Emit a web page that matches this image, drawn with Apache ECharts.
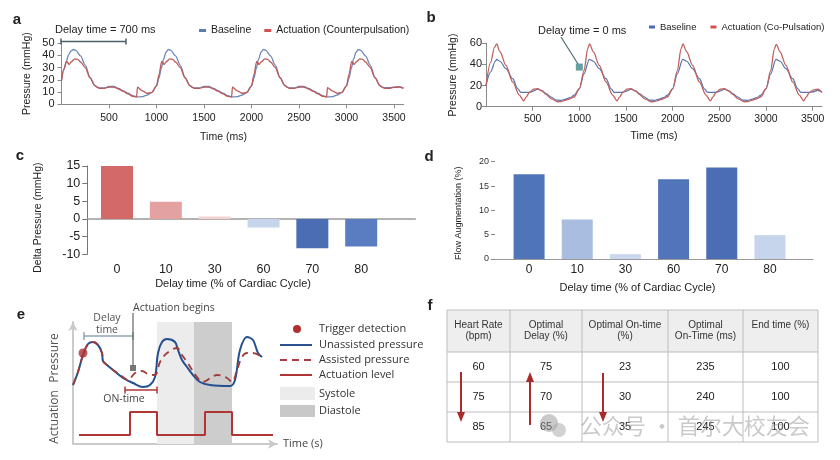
<!DOCTYPE html>
<html>
<head>
<meta charset="utf-8">
<script src="https://cdn.jsdelivr.net/npm/echarts@6.0.0/dist/echarts.min.js"></script>
<style>
  html, body { margin: 0; background: #fff; }
  #main { width: 840px; height: 460px; }
</style>
</head>
<body>
<div id="main"></div>
<script>
// ---- panel a: pressure traces, counterpulsation (time ms, mmHg)
var baseA = [
  [0,20],[25,28],[50,35],[75,40.5],[100,43.5],[125,44.7],[150,44],[200,39.5],[250,32],[300,22],[350,15.5],[375,14],[400,13.3],[450,13.3],[500,14.5],[550,14.5],[600,13],[650,11],[700,9],[750,7],[800,6],[850,6.2],[900,7.5],[950,9.5],
  [1000,15],[1025,21],[1050,29],[1075,37],[1100,42.5],[1125,44.7],[1150,44],[1200,39.5],[1250,32],[1300,22],[1350,15.5],[1375,14],[1400,13.3],[1450,13.3],[1500,14.5],[1550,14.5],[1600,13],[1650,11],[1700,9],[1750,7],[1800,6],[1850,6.2],[1900,7.5],[1950,9.5],
  [2000,15],[2025,21],[2050,29],[2075,37],[2100,42.5],[2125,44.7],[2150,44],[2200,39.5],[2250,32],[2300,22],[2350,15.5],[2375,14],[2400,13.3],[2450,13.3],[2500,14.5],[2550,14.5],[2600,13],[2650,11],[2700,9],[2750,7],[2800,6],[2850,6.2],[2900,7.5],[2950,9.5],
  [3000,15],[3025,21],[3050,29],[3075,37],[3100,42.5],[3125,44.7],[3150,44],[3200,39.5],[3250,32],[3300,22],[3350,15.5],[3375,14],[3400,13.5],[3450,13.5],[3500,14],[3550,14.3],[3600,13.3]
]
var actA = [
  [0,19],[25,29],[55,35],[80,32.5],[100,34.5],[140,37],[175,36.5],[200,34.5],[250,30],[300,21.5],[350,15.3],[375,14],[400,13],[450,13],[500,14],[550,14],[600,12.5],[650,10.5],[700,8.5],[750,6.5],[790,6],[800,14],[850,11],[900,9],[950,9.8],
  [1000,15],[1025,24],[1055,35],[1080,32.5],[1100,34.5],[1140,37],[1175,36.5],[1200,34.5],[1250,30],[1300,21.5],[1350,15.3],[1375,14],[1400,13],[1450,13],[1500,14],[1550,14],[1600,12.5],[1650,10.5],[1700,8.5],[1750,6.5],[1790,6],[1800,14],[1850,11],[1900,9],[1950,9.8],
  [2000,15],[2025,24],[2055,35],[2080,32.5],[2100,34.5],[2140,37],[2175,36.5],[2200,34.5],[2250,30],[2300,21.5],[2350,15.3],[2375,14],[2400,13],[2450,13],[2500,14],[2550,14],[2600,12.5],[2650,10.5],[2700,8.5],[2750,6.5],[2790,6],[2800,13.5],[2850,11],[2900,9],[2950,9.8],
  [3000,15],[3025,24],[3055,35],[3080,32.5],[3100,34.5],[3140,37],[3175,36.5],[3200,34.5],[3250,30],[3300,21.5],[3350,15.3],[3375,14],[3400,13],[3450,13],[3500,13.8],[3550,14],[3600,13]
]

// ---- panel b: pressure traces, co-pulsation
var baseB = [
  [0,20],[50,33],[100,43],[115,44.7],[150,43],[214,36],[286,26.5],[340,17],[375,13.5],[450,13.5],[500,14.5],[554,16.5],[600,15],[643,12.5],[700,9],[750,6.3],[800,6],[857,7.2],[900,8.5],[946,11],
  [1000,17],[1050,31],[1107,44.7],[1150,43],[1214,36],[1286,26.5],[1340,17],[1375,13.5],[1450,13.5],[1500,14.5],[1554,16.5],[1600,15],[1643,12.5],[1700,9],[1750,6.3],[1800,6],[1857,7.2],[1900,8.5],[1946,11],
  [2000,17],[2050,31],[2107,44.7],[2150,43],[2214,36],[2286,26.5],[2340,17],[2375,13.5],[2450,13.5],[2500,14.5],[2554,16.5],[2600,15],[2643,12.5],[2700,9],[2750,6.3],[2800,6],[2857,7.2],[2900,8.5],[2946,11],
  [3000,17],[3050,31],[3107,44.7],[3150,43],[3214,36],[3286,26.5],[3340,17],[3375,13.5],[3450,13.5],[3500,14],[3554,15.5],[3600,14]
]
var actB = [
  [0,20],[50,42],[90,56],[114,59.4],[150,52],[214,39],[286,23.4],[357,11],[404,5.6],[430,9],[464,13.4],[510,16.5],[554,17.2],[600,15],[643,11.6],[700,7.5],[768,4.7],[810,5],[857,6.3],[900,7.5],[946,9.4],
  [1000,17],[1050,34],[1090,55],[1110,59.4],[1150,52],[1214,39],[1286,23.4],[1357,11],[1404,5.6],[1430,9],[1464,13.4],[1510,16.5],[1554,17.2],[1600,15],[1643,11.6],[1700,7.5],[1768,4.7],[1810,5],[1857,6.3],[1900,7.5],[1946,9.4],
  [2000,17],[2050,34],[2090,55],[2110,59.4],[2150,52],[2214,39],[2286,23.4],[2357,11],[2404,5.6],[2430,9],[2464,13.4],[2510,16.5],[2554,17.2],[2600,15],[2643,11.6],[2700,7.5],[2768,4.7],[2810,5],[2857,6.3],[2900,7.5],[2946,9.4],
  [3000,17],[3050,34],[3090,55],[3110,59],[3150,52],[3214,39],[3286,23.4],[3357,11],[3404,5.6],[3430,9],[3464,13.4],[3510,16],[3554,16.5],[3600,13.4]
]
var markB = [[1000, 37.5]]   // "Delay time = 0 ms" marker

// ---- panels c / d: bars by delay time
var delayCats = ['0', '10', '30', '60', '70', '80']
var deltaPressure = [15, 4.9, 0.7, -2.4, -8.3, -7.8]
var flowAug = [17.4, 8.1, 1.0, 16.4, 18.8, 4.9]
var colorsC = ['#d4696a', '#e3a2a1', '#f1d4d0', '#c6d5eb', '#4b6db4', '#5a7dc1']
var colorsD = ['#5074b8', '#a9bde0', '#cbd7ec', '#5275b9', '#4a6db5', '#c6d4ec']

// ---- panel e: schematic (arbitrary units)
var unassisted = [[0,59],[5,72],[10,89],[15,100],[20,102],[25,99],[29,91],[30,83],[34,79],[40,74],[50,66],[60,61],[70,57],[77,59],[82,67],[85,91],[89,102],[94,105],[102,102],[105,94],[109,84],[114,77],[120,69],[127,62],[137,59],[157,58],[162,64],[167,94],[174,107],[180,104],[185,91],[189,87]]
var assisted = [[0,59],[5,72],[10,89],[15,100],[20,102],[25,99],[29,91],[30,83],[34,79],[40,74],[50,67],[55,64],[62,71],[69,73],[75,70],[82,69],[87,82],[94,91],[104,96],[109,89],[114,82],[124,67],[130,62],[139,67],[144,69],[154,66],[159,62],[164,74],[169,87],[174,91],[180,91],[189,87]]
var actLevel = [[6,9],[57,9],[57,32],[84,32],[84,9],[132,9],[132,32],[159,32],[159,9],[200,9]]
var trigger = [[10,91]]
var actBegins = [[60,76]]
var systole = [84, 121]
var diastole = [121, 159]

// ---- panel f: table
var tableHead = ['Heart Rate\n(bpm)', 'Optimal\nDelay (%)', 'Optimal On-time\n(%)', 'Optimal\nOn-Time (ms)', 'End time (%)']
var heartRate = [60, 75, 85]
var optDelay = [75, 70, 65]
var onTimePct = [23, 30, 35]
var onTimeMs = [235, 240, 245]
var endTime = [100, 100, 100]

var FONT = '"Liberation Sans", Arial, sans-serif'
var EFONT = '"Open Sans", sans-serif'
var AX = '#8a8a8a'

function txt(x, y, s, size, opt) {
  opt = opt || {}
  return {
    type: 'text', x: x, y: y, rotation: opt.rot || 0, silent: true, z: 50,
    style: {
      text: s, font: (opt.bold ? 'bold ' : '') + size + 'px ' + (opt.font || FONT),
      fill: opt.color || '#222',
      textAlign: opt.align || 'left', align: opt.align || 'left',
      textVerticalAlign: 'middle', verticalAlign: 'middle'
    }
  }
}
function seg(x1, y1, x2, y2, color, w, dash) {
  return { type: 'line', silent: true, z: 50, shape: { x1: x1, y1: y1, x2: x2, y2: y2 },
    style: { stroke: color, lineWidth: w || 1, lineDash: dash || null } }
}
function box(x, y, w, h, fill, stroke) {
  return { type: 'rect', silent: true, z: 40, shape: { x: x, y: y, width: w, height: h },
    style: { fill: fill || 'none', stroke: stroke || null, lineWidth: 1 } }
}
function arrow(x, yFrom, yTo, color) {
  var dir = yTo > yFrom ? 1 : -1
  return [
    seg(x, yFrom, x, yTo - dir * 8, color, 2),
    { type: 'polygon', silent: true, z: 50,
      shape: { points: [[x - 4, yTo - dir * 10], [x + 4, yTo - dir * 10], [x, yTo]] },
      style: { fill: color } }
  ]
}
function plain(v) { return String(v) }

var graphics = []
// panel letters
graphics.push(txt(17, 20, 'a', 15, { bold: true, align: 'center' }))
graphics.push(txt(431, 18, 'b', 15, { bold: true, align: 'center' }))
graphics.push(txt(20, 156, 'c', 15, { bold: true, align: 'center' }))
graphics.push(txt(429, 157, 'd', 15, { bold: true, align: 'center' }))
graphics.push(txt(21, 315, 'e', 15, { bold: true, align: 'center' }))
graphics.push(txt(430, 306, 'f', 15, { bold: true, align: 'center' }))

// panel a annotation
graphics.push(txt(55, 30, 'Delay time = 700 ms', 11))
graphics.push(seg(61, 41.5, 126, 41.5, '#4d6068', 1.5))
graphics.push(seg(61, 38.5, 61, 44.5, '#4d6068', 1.5))
graphics.push(seg(126, 38.5, 126, 44.5, '#4d6068', 1.5))

// panel b annotation
graphics.push(txt(538, 31, 'Delay time = 0 ms', 11))
graphics.push(seg(561, 37, 578, 64, '#4f6e76', 1.2))

// panel e annotations
graphics.push(txt(55, 358, 'Pressure', 12, { font: EFONT, rot: Math.PI / 2, align: 'center', color: '#555' }))
graphics.push(txt(55, 417, 'Actuation', 12, { font: EFONT, rot: Math.PI / 2, align: 'center', color: '#555' }))
graphics.push(seg(84, 336, 133, 336, '#8fa6b3', 1.5))
graphics.push(seg(84, 332, 84, 340, '#8fa6b3', 1.5))
graphics.push(seg(133, 332, 133, 340, '#8fa6b3', 1.5))
graphics.push(txt(107, 318.5, 'Delay', 10.5, { font: EFONT, align: 'center', color: '#555' }))
graphics.push(txt(107, 330, 'time', 10.5, { font: EFONT, align: 'center', color: '#555' }))
graphics.push(seg(133, 313, 133, 366, '#666', 1.2))
graphics.push(txt(133, 308.5, 'Actuation begins', 10.5, { font: EFONT, color: '#444' }))
graphics.push(seg(125, 390, 157, 390, '#b03636', 1.5))
graphics.push(seg(125, 386.5, 125, 393.5, '#b03636', 1.5))
graphics.push(seg(157, 386.5, 157, 393.5, '#b03636', 1.5))
graphics.push(txt(124, 399.5, 'ON-time', 10.5, { font: EFONT, align: 'center', color: '#444' }))
// panel e legend
graphics.push({ type: 'circle', silent: true, z: 50, shape: { cx: 297, cy: 329, r: 4 }, style: { fill: '#b03030' } })
graphics.push(seg(280, 345, 312, 345, '#2c4f8f', 2))
graphics.push(seg(280, 360, 312, 360, '#a83a3a', 1.8, [7, 5]))
graphics.push(seg(280, 375, 312, 375, '#b03636', 2))
graphics.push(box(280, 387, 35, 13, '#ececec'))
graphics.push(box(280, 405, 35, 12, '#c8c8c8'))
var eLeg = [['Trigger detection', 329], ['Unassisted pressure', 345], ['Assisted pressure', 360], ['Actuation level', 375], ['Systole', 394], ['Diastole', 411]]
eLeg.forEach(function (l) { graphics.push(txt(319, l[1], l[0], 11, { font: EFONT, color: '#333' })) })

// panel f table
var colX = [447, 510, 582, 668, 743, 818]
var rowY = [310, 352, 382, 412, 442]
graphics.push(box(447, 310, 371, 42, '#eeeeee'))
graphics.push(box(447, 310, 371, 132, null, '#bdbdbd'))
rowY.slice(1, 4).forEach(function (y) { graphics.push(seg(447, y, 818, y, '#bdbdbd', 1)) })
colX.slice(1, 5).forEach(function (x) { graphics.push(seg(x, 310, x, 442, '#bdbdbd', 1)) })
tableHead.forEach(function (h, i) {
  var cx = (colX[i] + colX[i + 1]) / 2
  h.split('\n').forEach(function (s, k) { graphics.push(txt(cx, 325 + k * 11.5, s, 10, { align: 'center', color: '#333' })) })
})
var cols = [heartRate, optDelay, onTimePct, onTimeMs, endTime]
cols.forEach(function (col, i) {
  var cx = (colX[i] + colX[i + 1]) / 2
  col.forEach(function (v, r) { graphics.push(txt(cx, (rowY[r + 1] + rowY[r + 2]) / 2, String(v), 11, { align: 'center', color: '#222' })) })
})
graphics = graphics.concat(arrow(461, 372, 422, '#a82c2c'))
graphics = graphics.concat(arrow(530, 425, 372, '#a82c2c'))
graphics = graphics.concat(arrow(603, 373, 422, '#a82c2c'))
// watermark
graphics.push({ type: 'circle', silent: true, z: 60, shape: { cx: 549, cy: 423, r: 9 }, style: { fill: 'rgba(150,150,150,0.5)' } })
graphics.push({ type: 'circle', silent: true, z: 60, shape: { cx: 559, cy: 430, r: 7 }, style: { fill: 'rgba(165,165,165,0.5)' } })
graphics.push(txt(580, 426, '公众号 · 首尔大校友会', 22, { font: '"Noto Sans CJK SC", sans-serif', color: 'rgba(150,150,150,0.5)' }))

var chart = echarts.init(document.getElementById('main'), null, { renderer: 'canvas' })

var tsA = { fontFamily: FONT, fontSize: 10.5, color: '#222', formatter: plain }

var option = {
  animation: false,
  backgroundColor: '#fff',
  textStyle: { fontFamily: FONT },
  legend: [
    {
      data: [{ name: 'Baseline', itemStyle: { color: '#5b7bb8' } }, { name: 'Actuation (Counterpulsation)', itemStyle: { color: '#d0534f' } }],
      left: 199, top: 25, width: 240, orient: 'horizontal', icon: 'rect', itemWidth: 7, itemHeight: 3, itemGap: 13, padding: 0,
      textStyle: { fontSize: 10.5, color: '#222', fontFamily: FONT }
    },
    {
      data: [{ name: 'Baseline', itemStyle: { color: '#4a6cb3' } }, { name: 'Actuation (Co-Pulsation)', itemStyle: { color: '#d0534f' } }],
      left: 649, top: 22, width: 190, orient: 'horizontal', icon: 'rect', itemWidth: 6, itemHeight: 3, itemGap: 14, padding: 0,
      textStyle: { fontSize: 9.5, color: '#222', fontFamily: FONT }
    }
  ],
  grid: [
    { left: 61.5, top: 43, width: 342, height: 61.3 },      // a
    { left: 486, top: 43.3, width: 336, height: 63.4 },     // b
    { left: 87.3, top: 166, width: 328, height: 88.3 },     // c axes
    { left: 92.6, top: 166, width: 293, height: 88.3 },     // c bars
    { left: 495, top: 161.7, width: 318, height: 97.3 },    // d axes
    { left: 505, top: 161.7, width: 289, height: 97.3 },    // d bars
    { left: 73, top: 322, width: 204, height: 122 }         // e
  ],
  xAxis: [
    {
      gridIndex: 0, type: 'value', min: 0, max: 3600, interval: 500,
      axisLine: { lineStyle: { color: AX } }, axisTick: { length: 4, lineStyle: { color: AX } },
      axisLabel: Object.assign({ showMinLabel: false, showMaxLabel: false, margin: 8 }, tsA),
      splitLine: { show: false },
      name: 'Time (ms)', nameLocation: 'middle', nameGap: 27,
      nameTextStyle: { fontSize: 10.5, color: '#222', padding: [0, 18, 0, 0] }
    },
    {
      gridIndex: 1, type: 'value', min: 0, max: 3600, interval: 500,
      axisLine: { lineStyle: { color: AX } }, axisTick: { length: 4, lineStyle: { color: AX } },
      axisLabel: Object.assign({ showMinLabel: false, showMaxLabel: false, margin: 7 }, tsA),
      splitLine: { show: false },
      name: 'Time (ms)', nameLocation: 'middle', nameGap: 24,
      nameTextStyle: { fontSize: 10.5, color: '#222' }
    },
    {
      gridIndex: 2, type: 'value', min: 0, max: 1,
      axisLine: { onZero: true, lineStyle: { color: '#999', width: 1.5 } },
      axisTick: { show: false }, axisLabel: { show: false }, splitLine: { show: false }
    },
    {
      gridIndex: 3, type: 'category', data: delayCats, position: 'bottom',
      axisLine: { show: false, onZero: false }, axisTick: { show: false },
      axisLabel: { fontSize: 12.5, color: '#222', margin: 9 },
      name: 'Delay time (% of Cardiac Cycle)', nameLocation: 'middle', nameGap: 24,
      nameTextStyle: { fontSize: 11, color: '#222', padding: [0, 12, 0, 0] }
    },
    {
      gridIndex: 4, type: 'value', min: 0, max: 1,
      axisLine: { lineStyle: { color: '#999' } },
      axisTick: { show: false }, axisLabel: { show: false }, splitLine: { show: false }
    },
    {
      gridIndex: 5, type: 'category', data: delayCats, position: 'bottom',
      axisLine: { show: false, onZero: false }, axisTick: { show: false },
      axisLabel: { fontSize: 12, color: '#222', margin: 5 },
      name: 'Delay time (% of Cardiac Cycle)', nameLocation: 'middle', nameGap: 23,
      nameTextStyle: { fontSize: 11, color: '#222', padding: [0, 24, 0, 0] }
    },
    {
      gridIndex: 6, type: 'value', min: 0, max: 204,
      axisLine: { symbol: ['none', 'arrow'], symbolSize: [7, 9], lineStyle: { color: '#cacaca', width: 2 } },
      axisTick: { show: false }, axisLabel: { show: false }, splitLine: { show: false },
      name: 'Time (s)', nameLocation: 'end', nameGap: 6,
      nameTextStyle: { fontSize: 11, color: '#444', fontFamily: EFONT }
    }
  ],
  yAxis: [
    {
      gridIndex: 0, type: 'value', min: 0, max: 50, interval: 10,
      axisLine: { show: true, lineStyle: { color: AX } }, axisTick: { show: true, length: 4, lineStyle: { color: AX } },
      axisLabel: Object.assign({ margin: 7 }, tsA, { fontSize: 11 }), splitLine: { show: false },
      name: 'Pressure (mmHg)', nameLocation: 'middle', nameGap: 29,
      nameTextStyle: { fontSize: 10.5, color: '#222' }
    },
    {
      gridIndex: 1, type: 'value', min: 0, max: 60, interval: 20,
      axisLine: { show: true, lineStyle: { color: AX } }, axisTick: { show: true, length: 4, lineStyle: { color: AX } },
      axisLabel: Object.assign({ margin: 4 }, tsA, { fontSize: 11 }), splitLine: { show: false },
      name: 'Pressure (mmHg)', nameLocation: 'middle', nameGap: 27,
      nameTextStyle: { fontSize: 10.5, color: '#222' }
    },
    {
      gridIndex: 2, type: 'value', min: -10, max: 15, interval: 5,
      axisLine: { show: true, lineStyle: { color: '#777' } }, axisTick: { show: true, length: 5, lineStyle: { color: '#777' } },
      axisLabel: { fontSize: 12.5, color: '#222', margin: 7 }, splitLine: { show: false },
      name: 'Delta Pressure (mmHg)', nameLocation: 'middle', nameGap: 44,
      nameTextStyle: { fontSize: 10.5, color: '#222', padding: [0, 15, 0, 0] }
    },
    { gridIndex: 3, type: 'value', min: -10, max: 15, show: false },
    {
      gridIndex: 4, type: 'value', min: 0, max: 20, interval: 5,
      axisLine: { show: false }, axisTick: { show: true, length: 4, lineStyle: { color: '#888' } },
      axisLabel: { fontSize: 9, color: '#333', margin: 6 }, splitLine: { show: false },
      name: 'Flow Augmentation (%)', nameLocation: 'middle', nameGap: 32,
      nameTextStyle: { fontSize: 9, color: '#222', padding: [0, 6, 0, 0] }
    },
    { gridIndex: 5, type: 'value', min: 0, max: 20, show: false },
    {
      gridIndex: 6, type: 'value', min: 0, max: 122,
      axisLine: { symbol: ['none', 'arrow'], symbolSize: [7, 9], lineStyle: { color: '#cacaca', width: 2 } },
      axisTick: { show: false }, axisLabel: { show: false }, splitLine: { show: false }
    }
  ],
  series: [
    { name: 'Baseline', type: 'line', xAxisIndex: 0, yAxisIndex: 0, data: baseA, showSymbol: false,
      smooth: 0.3, smoothMonotone: 'x', lineStyle: { color: '#6f88ba', width: 1.3 }, itemStyle: { color: '#6f88ba' } },
    { name: 'Actuation (Counterpulsation)', type: 'line', xAxisIndex: 0, yAxisIndex: 0, data: actA, showSymbol: false,
      smooth: 0.3, smoothMonotone: 'x', lineStyle: { color: '#bd5a57', width: 1.3 }, itemStyle: { color: '#bd5a57' } },
    { name: 'Baseline', type: 'line', xAxisIndex: 1, yAxisIndex: 1, data: baseB, showSymbol: false,
      smooth: 0.3, smoothMonotone: 'x', lineStyle: { color: '#5874ad', width: 1.2 }, itemStyle: { color: '#5874ad' } },
    { name: 'Actuation (Co-Pulsation)', type: 'line', xAxisIndex: 1, yAxisIndex: 1, data: actB, showSymbol: false,
      smooth: 0.3, smoothMonotone: 'x', lineStyle: { color: '#c0625e', width: 1.3 }, itemStyle: { color: '#c0625e' } },
    { name: 'marker b', type: 'scatter', xAxisIndex: 1, yAxisIndex: 1, data: markB, symbol: 'rect', symbolSize: 7,
      itemStyle: { color: '#3f8a8c' }, z: 5 },
    { name: 'Delta Pressure', type: 'bar', xAxisIndex: 3, yAxisIndex: 3, barWidth: 32,
      data: deltaPressure.map(function (v, i) { return { value: v, itemStyle: { color: colorsC[i] } } }) },
    { name: 'Flow Augmentation', type: 'bar', xAxisIndex: 5, yAxisIndex: 5, barWidth: 31,
      data: flowAug.map(function (v, i) { return { value: v, itemStyle: { color: colorsD[i] } } }) },
    { name: 'phases', type: 'line', xAxisIndex: 6, yAxisIndex: 6, data: [], z: 1,
      markArea: { silent: true, data: [
        [{ xAxis: systole[0], itemStyle: { color: '#ececec' } }, { xAxis: systole[1] }],
        [{ xAxis: diastole[0], itemStyle: { color: '#cdcdcd' } }, { xAxis: diastole[1] }]
      ] } },
    { name: 'Unassisted pressure', type: 'line', xAxisIndex: 6, yAxisIndex: 6, data: unassisted, showSymbol: false,
      smooth: 0.35, lineStyle: { color: '#24508f', width: 2 }, z: 4 },
    { name: 'Assisted pressure', type: 'line', xAxisIndex: 6, yAxisIndex: 6, data: assisted, showSymbol: false,
      smooth: 0.35, lineStyle: { color: '#a33a3a', width: 1.8, type: [7, 5] }, z: 5 },
    { name: 'Actuation level', type: 'line', xAxisIndex: 6, yAxisIndex: 6, data: actLevel, showSymbol: false,
      lineStyle: { color: '#b03636', width: 2 }, z: 4 },
    { name: 'Trigger detection', type: 'scatter', xAxisIndex: 6, yAxisIndex: 6, data: trigger, symbolSize: 9,
      itemStyle: { color: '#b03030' }, z: 6 },
    { name: 'Actuation begins', type: 'scatter', xAxisIndex: 6, yAxisIndex: 6, data: actBegins, symbol: 'rect', symbolSize: 6,
      itemStyle: { color: '#555' }, z: 6 }
  ],
  graphic: { elements: graphics }
}

chart.setOption(option)
</script>
</body>
</html>
